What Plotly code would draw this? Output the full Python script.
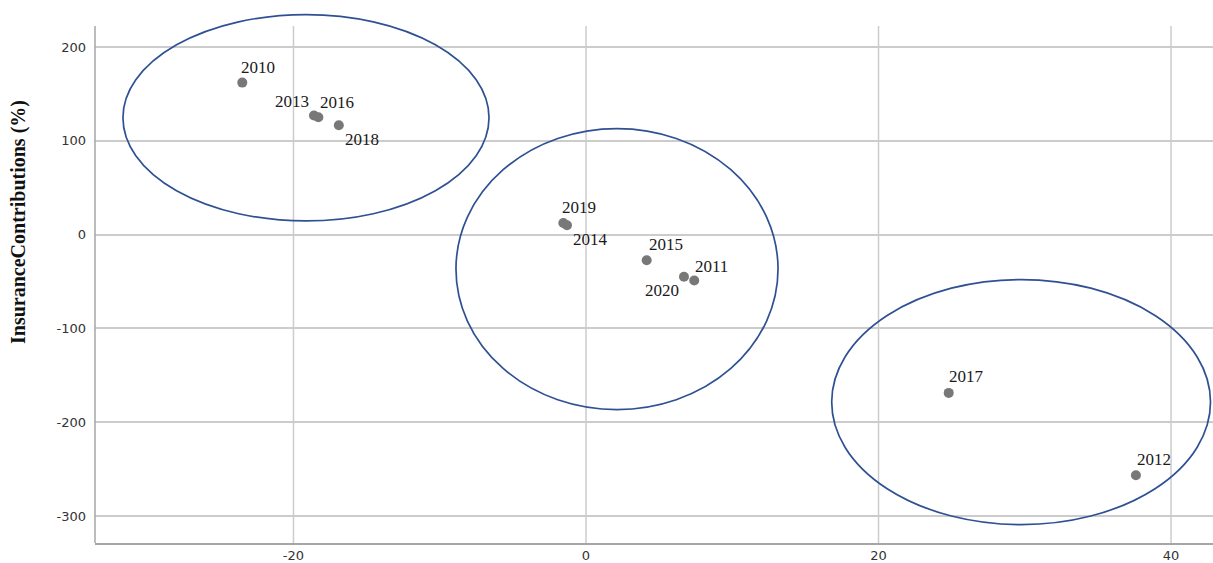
import plotly.graph_objects as go

# ---- data ----
years = ["2010", "2013", "2016", "2018", "2019", "2014", "2015", "2020", "2011", "2017", "2012"]
x_vals = [-23.5, -18.6, -18.3, -16.9, -1.55, -1.3, 4.15, 6.7, 7.4, 24.8, 37.6]
y_vals = [162, 127, 125, 116.5, 12.4, 10, -27.4, -45, -49, -168.8, -256.5]

# cluster ellipses: (x0, x1, y0, y1)
cluster_x0 = [-31.66, -8.89, 16.8]
cluster_x1 = [-6.63, 13.13, 42.7]
cluster_y0 = [14.5, -186.6, -309.2]
cluster_y1 = [234.5, 113.0, -48.0]

x_ticks = [-20, 0, 20, 40]
x_tick_text = ["-20", "0", "20", "40"]
y_ticks = [200, 100, 0, -100, -200, -300]
y_tick_text = ["200", "100", "0", "-100", "-200", "-300"]
y_title = "InsuranceContributions (%)"

# ---- styling / layout ----
X_RANGE = [-33.57, 42.87]
Y_RANGE = [-328.8, 236.2]
GRID_TOP = 222.4
GRID = "#cccccc"
AXIS = "#a6a6a6"

# label offsets (xanchor, xshift, yshift)
label_style = {
    "2010": ("left", -3, 15),
    "2013": ("right", -3, 14),
    "2016": ("left", 0, 15),
    "2018": ("left", 4, -14),
    "2019": ("left", -3, 15),
    "2014": ("left", 4, -14),
    "2015": ("left", 0, 16),
    "2020": ("right", -3, -14),
    "2011": ("left", -1, 14),
    "2017": ("left", -2, 16),
    "2012": ("left", -1, 16),
}

fig = go.Figure()
fig.add_trace(go.Scatter(
    x=x_vals, y=y_vals, mode="markers",
    marker=dict(size=10, color="#787878"),
    hoverinfo="text", text=years, showlegend=False,
))

shapes = []
for gx in x_ticks:
    shapes.append(dict(type="line", xref="x", yref="y", x0=gx, x1=gx,
                       y0=Y_RANGE[0], y1=GRID_TOP, layer="below",
                       line=dict(color=GRID, width=1.5)))
shapes.append(dict(type="line", xref="paper", yref="y", x0=0, x1=0,
                   y0=Y_RANGE[0], y1=GRID_TOP, layer="above",
                   line=dict(color=AXIS, width=1.5)))
for a, b, c, d in zip(cluster_x0, cluster_x1, cluster_y0, cluster_y1):
    shapes.append(dict(type="circle", xref="x", yref="y", x0=a, x1=b, y0=c, y1=d,
                       line=dict(color="#2f5093", width=1.7)))

annotations = []
for yr, xv, yv in zip(years, x_vals, y_vals):
    anc, dx, dy = label_style[yr]
    annotations.append(dict(x=xv, y=yv, xref="x", yref="y", text=yr, showarrow=False,
                            xanchor=anc, yanchor="middle", xshift=dx, yshift=dy,
                            font=dict(family="Liberation Serif", size=17, color="#1a1a1a")))
annotations.append(dict(xref="paper", yref="paper", x=-0.068, y=0.6057, text=y_title,
                        textangle=-90, showarrow=False, xanchor="center", yanchor="middle",
                        font=dict(family="Liberation Serif", size=20, color="#111111",
                                  weight="bold")))

fig.update_layout(
    width=1213, height=563,
    margin=dict(l=95, r=0, t=13, b=20),
    paper_bgcolor="white", plot_bgcolor="white",
    font=dict(family="DejaVu Sans", size=13, color="#333333"),
    shapes=shapes, annotations=annotations,
    xaxis=dict(range=X_RANGE, tickvals=x_ticks, ticktext=x_tick_text, showgrid=False,
               zeroline=False, showline=True, linecolor=AXIS, linewidth=1.5, ticks="",
               automargin=False, fixedrange=True),
    yaxis=dict(range=Y_RANGE, tickvals=y_ticks, ticktext=y_tick_text, showgrid=True,
               gridcolor=GRID, gridwidth=1.5, zeroline=False, showline=False, ticks="",
               ticklabelstandoff=8, automargin=False, fixedrange=True),
)

fig.write_html("out.html", config={"displayModeBar": False},
               post_script="document.body.style.margin='0';document.body.style.overflow='hidden';")
